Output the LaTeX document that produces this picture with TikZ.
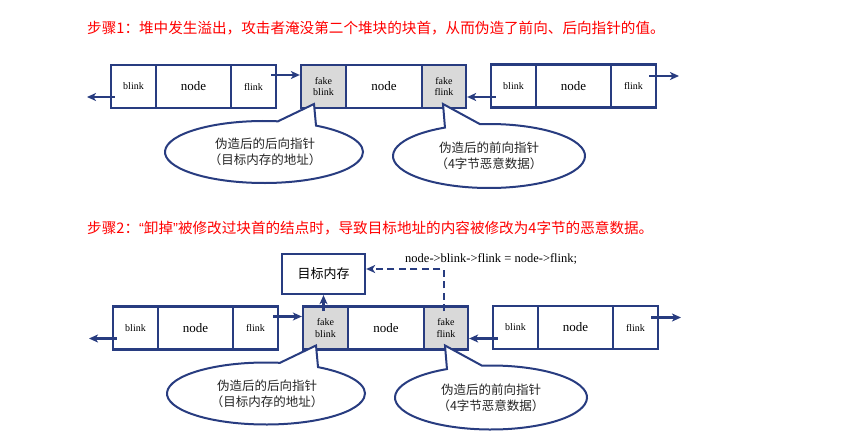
\documentclass[tikz,border=0pt]{standalone}
\usepackage{fontspec}
\setmainfont{Liberation Serif}
\newfontfamily\cjk{Noto Sans CJK SC}
\newfontfamily\latinsans{Liberation Sans}
\usetikzlibrary{arrows.meta,calc}
\definecolor{navy}{RGB}{40,60,128}
\definecolor{fakegray}{RGB}{217,217,217}
\tikzset{
  cell/.style={draw=navy, line width=2.3pt, minimum height=43pt, inner sep=0pt,
    font=\fontsize{10}{11.5}\selectfont, align=center},
  fakecell/.style={cell, fill=fakegray},
  nodecell/.style={cell, font=\fontsize{13}{14}\selectfont},
  arr/.style={draw=navy, line width=2.2pt, -{Stealth[length=9pt,width=8pt,inset=2.5pt]}},
  callout/.style={draw=navy, line width=2pt, fill=white},
  callouttext/.style={font=\cjk\fontsize{12.5}{16}\selectfont, align=center, text=black!85},
  title/.style={font=\cjk\fontsize{14.6}{16}\selectfont, text=red, anchor=west, inner sep=0pt},
  dashedarr/.style={arr, dash pattern=on 7pt off 4.5pt}
}
\newcommand\heaprow[1]{%
  % left chunk
  \node[cell, minimum width=45pt] (#1lb) at (133.5,-86.5) {blink};
  \node[nodecell, minimum width=75pt] (#1ln) at (193.5,-86.5) {node};
  \node[cell, minimum width=45pt] (#1lf) at (253.5,-86.5) {flink};
  % middle chunk
  \node[fakecell, minimum width=45pt] (#1mb) at (323.5,-86.5) {fake\\blink};
  \node[nodecell, minimum width=76pt] (#1mn) at (384,-86.5) {node};
  \node[fakecell, minimum width=44pt] (#1mf) at (444,-86.5) {fake\\flink};
  % right chunk
  \node[cell, minimum width=45pt] (#1rb) at (513.5,-86) {blink};
  \node[nodecell, minimum width=75pt] (#1rn) at (573.5,-86) {node};
  \node[cell, minimum width=45pt] (#1rf) at (633.5,-86) {flink};
  % free ends
  \coordinate (#1lend) at (87,-97);
  \coordinate (#1rend) at (679,-76);
  % arrows
  \draw[arr] ([xshift=5pt,yshift=-10.5pt]#1lb.west) -- (#1lend);
  \draw[arr] ([xshift=-6pt,yshift=11.5pt]#1lf.east) -- ([yshift=11.5pt]#1mb.west);
  \draw[arr] ([xshift=6pt,yshift=-11pt]#1rb.west) -- ([yshift=-10.5pt]#1mf.east);
  \draw[arr] ([xshift=-8pt,yshift=10pt]#1rf.east) -- (#1rend);
  % callouts
  \coordinate (#1e1) at (264,-152);
  \coordinate (#1t1) at (314,-104);
  \coordinate (#1e2) at (489,-156);
  \coordinate (#1t2) at (443,-104);
  \draw[callout] ($(#1e1)+(58.3:99pt and 31pt)$) -- (#1t1)
     -- ($(#1e1)+(81.9:99pt and 31pt)$)
     arc[start angle=81.9, end angle=418.3, x radius=99pt, y radius=31pt] -- cycle;
  \draw[callout] ($(#1e2)+(95.4:96pt and 32pt)$) -- (#1t2)
     -- ($(#1e2)+(117.3:96pt and 32pt)$)
     arc[start angle=117.3, end angle=455.4, x radius=96pt, y radius=32pt] -- cycle;
  \node[callouttext] (#1c1) at (265,-152) {伪造后的后向指针\\（目标内存的地址）};
  \node[callouttext] (#1c2) at (489,-156) {伪造后的前向指针\\（4字节恶意数据）};
}
\begin{document}
\begin{tikzpicture}[x=1pt,y=1pt]
  \useasboundingbox (0,0) rectangle (852,-439);
  \fill[white] (0,0) rectangle (852,-439);
  \node[title] (t1) at (87,-28) {步骤1：堆中发生溢出，攻击者淹没第二个堆块的块首，从而伪造了前向、后向指针的值。};
  \heaprow{a}
  \node[title] (t2) at (87,-228) {步骤2：{\latinsans “}卸掉{\latinsans ”}被修改过块首的结点时，导致目标地址的内容被修改为4字节的恶意数据。};
  \begin{scope}[shift={(2,-241.5)}]
    \heaprow{b}
  \end{scope}
  \node[draw=navy, line width=2.3pt, minimum width=83pt, minimum height=40pt, inner sep=0pt,
        font=\cjk\fontsize{13}{14}\selectfont] (target) at (323.5,-274) {目标内存};
  \draw[arr] ([yshift=-6pt]target.south |- bmb.north) -- (target.south);
  \draw[dashedarr] ([xshift=-2pt,yshift=-6pt]bmf.north) |- ([yshift=5pt]target.east);
  \node[anchor=west, inner sep=0pt, font=\fontsize{12.5}{14}\selectfont] (code) at (405,-259)
        {node->blink->flink = node->flink;};
\end{tikzpicture}
\end{document}
